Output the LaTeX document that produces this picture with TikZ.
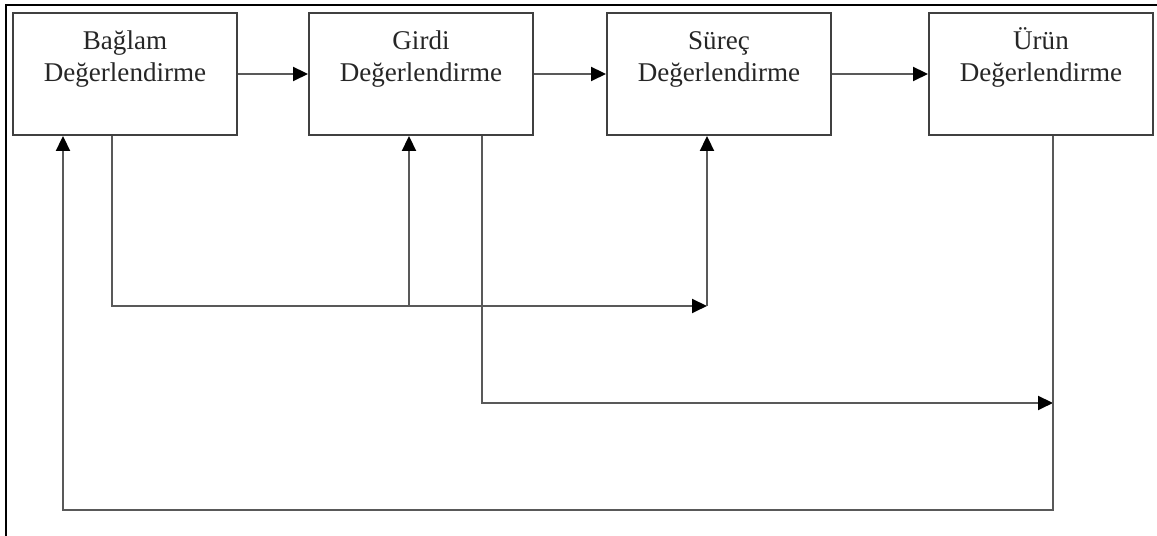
\documentclass[tikz,border=0pt]{standalone}
\usepackage{fontspec}
\setmainfont{Liberation Serif}
\usetikzlibrary{arrows.meta}

\tikzset{
    stage/.style={draw=black!75, line width=1.1pt, minimum width=4.48cm, minimum height=2.44cm, inner sep=0pt},
    stagetext/.style={anchor=north, align=center, inner sep=0pt, text=black!85,
        font=\fontsize{15.4}{18.2}\selectfont},
    flow/.style={draw=black!65, line width=1.1pt, -{Triangle[length=0.3cm,width=0.28cm,fill=black,color=black]}},
}
\newcommand{\toprule}{\rule{0pt}{17pt}}

\begin{document}
\begin{tikzpicture}
    \useasboundingbox (0,0) rectangle (23.14,10.72);

    % outer frame (only top and left edge visible)
    \draw[black, line width=1.5pt] (0.12,0) -- (0.12,10.62) -- (23.14,10.62);

    % the four evaluation stages
    \node[stage] (baglam) at (2.50,9.24) {};
    \node[stage] (girdi)  at (8.42,9.24) {};
    \node[stage] (surec)  at (14.38,9.24) {};
    \node[stage] (urun)   at (20.82,9.24) {};

    \node[stagetext] (baglamtext) at ([yshift=-0.14cm]baglam.north) {\toprule Bağlam\\Değerlendirme};
    \node[stagetext] (girditext)  at ([yshift=-0.14cm]girdi.north)  {\toprule Girdi\\Değerlendirme};
    \node[stagetext] (surectext)  at ([yshift=-0.14cm]surec.north)  {\toprule Süreç\\Değerlendirme};
    \node[stagetext] (uruntext)   at ([yshift=-0.14cm]urun.north)   {\toprule Ürün\\Değerlendirme};

    % arrows between the stages
    \draw[flow] (baglam.east) -- (girdi.west);
    \draw[flow] (girdi.east) -- (surec.west);
    \draw[flow] (surec.east) -- (urun.west);

    % bend points of the feedback lines
    \coordinate (b1) at (2.24,4.60);
    \coordinate (b2) at (8.18,4.60);
    \coordinate (b3) at (14.14,4.60);
    \coordinate (g1) at (9.64,2.66);
    \coordinate (g2) at (21.06,2.66);
    \coordinate (u1) at (21.06,0.52);
    \coordinate (u2) at (1.26,0.52);

    % context feeds input and process
    \draw[flow] (baglam.south -| b1) -- (b1) -- (b3);
    \draw[flow] (b2) -- (b2 |- girdi.south);
    \draw[flow] (b3) -- (b3 |- surec.south);

    % input feeds product line
    \draw[flow] (girdi.south -| g1) -- (g1) -- (g2);

    % product back to context
    \draw[flow] (urun.south -| u1) -- (u1) -- (u2) -- (u2 |- baglam.south);
\end{tikzpicture}
\end{document}
